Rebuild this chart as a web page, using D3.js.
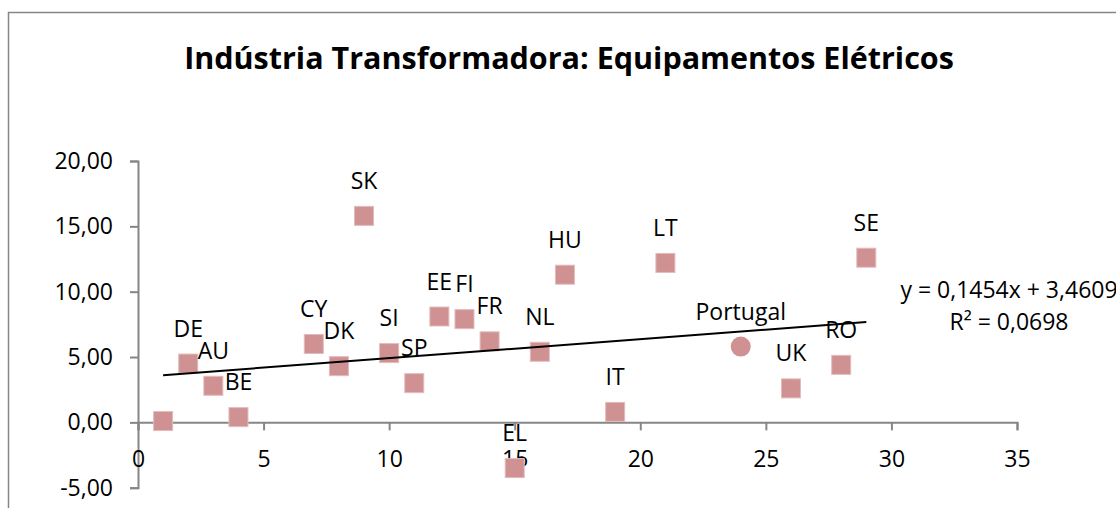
<!DOCTYPE html>
<html>
<head>
<meta charset="utf-8">
<script src="https://cdn.jsdelivr.net/npm/d3@7"></script>
<style>
  body { margin: 0; background: #fff; }
  svg { display: block; }
  text { font-family: "Open Sans", sans-serif; fill: #000; }
</style>
</head>
<body>
<div id="chart"></div>
<script>
// dados
var countries = ["", "DE", "AU", "BE", "CY", "DK", "SK", "SI", "SP", "EE", "FI", "FR", "EL", "NL", "HU", "IT", "LT", "UK", "RO", "SE"];
var xVals = [1, 2, 3, 4, 7, 8, 9, 10, 11, 12, 13, 14, 15, 16, 17, 19, 21, 26, 28, 29];
var yVals = [0.1, 4.5, 2.8, 0.4, 6.0, 4.3, 15.8, 5.3, 3.0, 8.1, 7.9, 6.2, -3.5, 5.4, 11.3, 0.8, 12.2, 2.6, 4.4, 12.6];
var ptName = ["Portugal"];
var ptX = [24];
var ptY = [5.8];
var trendCoef = [0.1454, 3.4609]; // slope, intercept
var trendR2 = [0.0698];
var xTicks = [0, 5, 10, 15, 20, 25, 30, 35];
var yTicks = [-5, 0, 5, 10, 15, 20];

var width = 1116, height = 508;
var svg = d3.select("#chart").append("svg").attr("width", width).attr("height", height);

var pt = d3.formatLocale({decimal: ",", thousands: ".", grouping: [3], currency: ["", "€"], minus: "-"});
var fmt2 = pt.format(".2f"), fmt4 = pt.format(".4f");

// moldura
svg.append("rect")
  .attr("x", 8.5).attr("y", 12.5)
  .attr("width", width + 20).attr("height", height + 20)
  .attr("fill", "#fff").attr("stroke", "#868686").attr("stroke-width", 1.5);

var title = svg.append("text")
  .attr("x", 569).attr("y", 58)
  .attr("dy", "0.35em")
  .attr("text-anchor", "middle")
  .style("font-weight", "bold")
  .style("font-size", "28px")
  .text("Indústria Transformadora: Equipamentos Elétricos");
var tl = title.node().getComputedTextLength();
title.style("font-size", (28 * 770 / tl) + "px");

var x = d3.scaleLinear().domain([0, 35]).range([138, 1017]);
var y = d3.scaleLinear().domain([-5, 20]).range([487.7, 161]);

var yAxis = svg.append("g")
  .attr("transform", "translate(" + x(0) + ",0)")
  .call(d3.axisLeft(y).tickValues(yTicks).tickSize(8).tickPadding(17).tickFormat(fmt2));
var xAxis = svg.append("g")
  .attr("transform", "translate(0," + y(0) + ")")
  .call(d3.axisBottom(x).tickValues(xTicks).tickSize(8).tickPadding(20).tickFormat(d3.format("d")));

[xAxis, yAxis].forEach(function(a) {
  a.select(".domain").attr("stroke", "#868686").attr("stroke-width", 2);
  a.selectAll(".tick line").attr("stroke", "#868686").attr("stroke-width", 2);
  a.selectAll("text").style("font-size", "23px").attr("fill", "#000");
});

var data = xVals.map(function(d, i) { return {name: countries[i], x: d, y: yVals[i]}; });
var pdata = ptX.map(function(d, i) { return {name: ptName[i], x: d, y: ptY[i]}; });

var col = "#cf9191";
var sz = 19;

svg.selectAll(".sq")
  .data(data)
  .enter().append("rect")
    .attr("class", "sq")
    .attr("x", function(d) { return x(d.x) - sz / 2; })
    .attr("y", function(d) { return y(d.y) - sz / 2; })
    .attr("width", sz).attr("height", sz)
    .attr("fill", col)
    .attr("stroke", "#e2bcbc").attr("stroke-width", 1);

svg.selectAll(".pt")
  .data(pdata)
  .enter().append("circle")
    .attr("class", "pt")
    .attr("cx", function(d) { return x(d.x); })
    .attr("cy", function(d) { return y(d.y); })
    .attr("r", 10)
    .attr("fill", col);

// linha de tendência
var tx = d3.extent(xVals);
svg.append("line")
  .attr("x1", x(tx[0])).attr("y1", y(trendCoef[0] * tx[0] + trendCoef[1]))
  .attr("x2", x(tx[1])).attr("y2", y(trendCoef[0] * tx[1] + trendCoef[1]))
  .attr("stroke", "#000").attr("stroke-width", 2);

// rótulos
svg.selectAll(".lbl")
  .data(data.concat(pdata))
  .enter().append("text")
    .attr("class", "lbl")
    .attr("x", function(d) { return x(d.x); })
    .attr("y", function(d) { return y(d.y) - 35; })
    .attr("dy", "0.35em")
    .attr("text-anchor", "middle")
    .style("font-size", "23px")
    .text(function(d) { return d.name; });

var eq = svg.append("text")
  .attr("text-anchor", "middle")
  .style("font-size", "23px");
eq.append("tspan").attr("x", 1009).attr("y", 290).attr("dy", "0.35em")
  .text("y = " + fmt4(trendCoef[0]) + "x + " + fmt4(trendCoef[1]));
eq.append("tspan").attr("x", 1009).attr("y", 322).attr("dy", "0.35em")
  .text("R² = " + fmt4(trendR2[0]));
</script>
</body>
</html>
